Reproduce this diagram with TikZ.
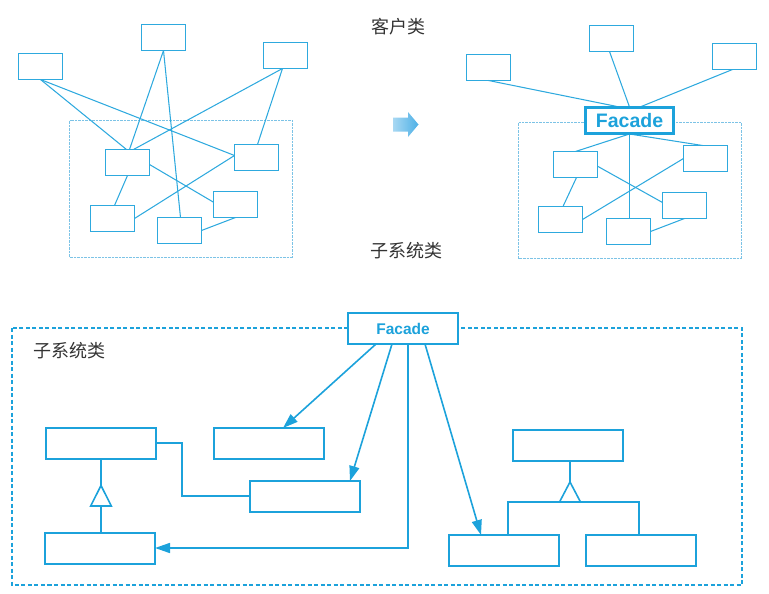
\documentclass[tikz,border=0pt]{standalone}
\usepackage{fontspec}
\newfontfamily\cjk{Noto Sans CJK SC}
\newfontfamily\arialfont{Liberation Sans}
\usetikzlibrary{arrows.meta,calc}
\definecolor{ln}{HTML}{1CA2DB}
\definecolor{lnl}{HTML}{2EA9DE}
\definecolor{dotc}{HTML}{7CC3E6}
\definecolor{txt}{HTML}{333333}
\definecolor{arrl}{HTML}{A8D8F3}
\definecolor{arrr}{HTML}{4DB0E6}
\tikzset{
  sbox/.style={draw=lnl, line width=1.1pt, fill=white, inner sep=0pt, outer sep=0pt, minimum width=44pt, minimum height=26pt},
  sline/.style={draw=lnl, line width=1.05pt},
  dotframe/.style={draw=dotc, line width=0.9pt, dash pattern=on 0.7pt off 0.7pt},
  topfacade/.style={draw=ln, line width=2.4pt, fill=white, inner sep=0pt, outer sep=0pt, minimum width=88pt, minimum height=26pt, text=ln, font=\arialfont\bfseries\fontsize{19.5}{19.5}\selectfont},
  bbox/.style={draw=ln, line width=1.6pt, fill=white, inner sep=0pt, outer sep=0pt, minimum width=110pt, minimum height=31pt},
  botfacade/.style={bbox, text=ln, font=\arialfont\bfseries\fontsize{15.5}{15.5}\selectfont},
  bline/.style={draw=ln, line width=1.6pt},
  barrow/.style={bline, -{Triangle[length=15pt,width=10pt]}},
  cjklabel/.style={text=txt, font=\cjk\fontsize{18}{18}\selectfont, inner sep=0pt},
}
\begin{document}
\begin{tikzpicture}[x=1pt,y=-1pt]
\useasboundingbox (0,0) rectangle (769,594);

% ---------- top left ----------
\draw[dotframe] (69.5,120.5) rectangle (292.5,257.5);
\node[sbox] (A) at (40.5,66.5) {};
\node[sbox] (B) at (163.5,37.5) {};
\node[sbox] (C) at (285.5,55.5) {};
\node[sbox] (S1) at (127.5,162.5) {};
\node[sbox] (S2) at (256.5,157.5) {};
\node[sbox] (S3) at (112.5,218.5) {};
\node[sbox] (S4) at (179.5,230.5) {};
\node[sbox] (S5) at (235.5,204.5) {};
\draw[sline] (A.south) -- ([xshift=-1pt]S1.north);
\draw[sline] (A.south) -- ([yshift=2pt]S2.west);
\draw[sline] (B.south) -- ([xshift=2pt]S1.north);
\draw[sline] (B.south) -- ([xshift=1pt]S4.north);
\draw[sline] ([xshift=-3pt]C.south) -- ([xshift=6pt]S1.north);
\draw[sline] ([xshift=-3pt]C.south) -- ([xshift=1pt]S2.north);
\draw[sline] (S1.south) -- ([xshift=2pt]S3.north);
\draw[sline] ([yshift=-2pt]S1.east) -- ([yshift=2.3pt]S5.west);
\draw[sline] (S3.east) -- ([yshift=2pt]S2.west);
\draw[sline] (S4.east) -- (S5.south);

% ---------- labels top ----------
\node[cjklabel] (lbk) at (398,26.5) {客户类};
\node[cjklabel] (lbs) at (406,251) {子系统类};

% ---------- block arrow ----------
\shade[left color=arrl, right color=arrr, shading angle=90]
  (393,117.5) -- (408,117.5) -- (408,112) -- (418.5,124.5) -- (408,137) -- (408,131.5) -- (393,131.5) -- cycle;

% ---------- top right ----------
\draw[dotframe] (518.5,122.5) rectangle (741.5,258.5);
\node[sbox] (cl) at (488.5,67.5) {};
\node[sbox] (cm) at (611.5,38.5) {};
\node[sbox] (cr) at (734.5,56.5) {};
\node[sbox] (T1) at (575.5,164.5) {};
\node[sbox] (T2) at (705.5,158.5) {};
\node[sbox] (T3) at (560.5,219.5) {};
\node[sbox] (T4) at (628.5,231.5) {};
\node[sbox] (T5) at (684.5,205.5) {};
\draw[sline] (cl.south) -- (619.5,107);
\draw[sline] ([xshift=-2pt]cm.south) -- (629.5,107);
\draw[sline] ([xshift=-2pt]cr.south) -- (640,107);
\draw[sline] (629.5,134) -- (T1.north);
\draw[sline] (629.5,134) -- ([xshift=-3pt]T2.north);
\draw[sline] (629.5,134) -- (629.5,218);
\draw[sline] ([xshift=1pt]T1.south) -- ([xshift=2.5pt]T3.north);
\draw[sline] ([yshift=-1.7pt]T1.east) -- ([yshift=3pt]T5.west);
\draw[sline] (T3.east) -- (T2.west);
\draw[sline] (T4.east) -- (T5.south);
\node[topfacade] (F) at (629.5,120.5) {Facade};

% ---------- bottom ----------
\draw[ln, line width=1.3pt, dash pattern=on 4pt off 2.5pt] (12,328) rectangle (742,585);
\node[cjklabel] (lbb) at (69,350.5) {子系统类};
\node[botfacade] (BF) at (403,328.5) {Facade};
\node[bbox] (L1) at (101,443.5) {};
\node[bbox] (L2) at (100,548.5) {};
\node[bbox] (M1) at (269,443.5) {};
\node[bbox] (M2) at (305,496.5) {};
\node[bbox] (R1) at (568,445.5) {};
\node[bbox] (R2) at (504,550.5) {};
\node[bbox] (R3) at (641,550.5) {};

\draw[barrow] ([xshift=-27pt]BF.south) -- ([xshift=14pt]M1.north);
\draw[barrow] ([xshift=-11pt]BF.south) -- ([xshift=45pt]M2.north);
\draw[barrow] ([xshift=5pt]BF.south) |- ([yshift=0.5pt]L2.east);
\draw[barrow] ([xshift=22pt]BF.south) -- ([xshift=-23pt]R2.north);
\draw[bline] ([yshift=0.5pt]L1.east) -- ++(26,0) |- ([yshift=0.5pt]M2.west);

% left inheritance
\coordinate (la) at (101,485.5);
\draw[bline] ([xshift=1pt]L2.north) -- (101,506);
\draw[bline, line join=miter] (la) -- (111.3,506) -- (90.7,506) -- cycle;
\draw[bline] (la) -- (L1.south);

% right inheritance
\coordinate (ra) at (570,482);
\draw[bline] ([xshift=2pt]R1.south) -- (ra);
\draw[bline, line join=miter] (ra) -- (580.5,502) -- (559.5,502) -- cycle;
\draw[bline] ([xshift=4pt]R2.north) |- ([xshift=-2pt]R3.north |- 0,502) -- ([xshift=-2pt]R3.north);
\end{tikzpicture}
\end{document}
